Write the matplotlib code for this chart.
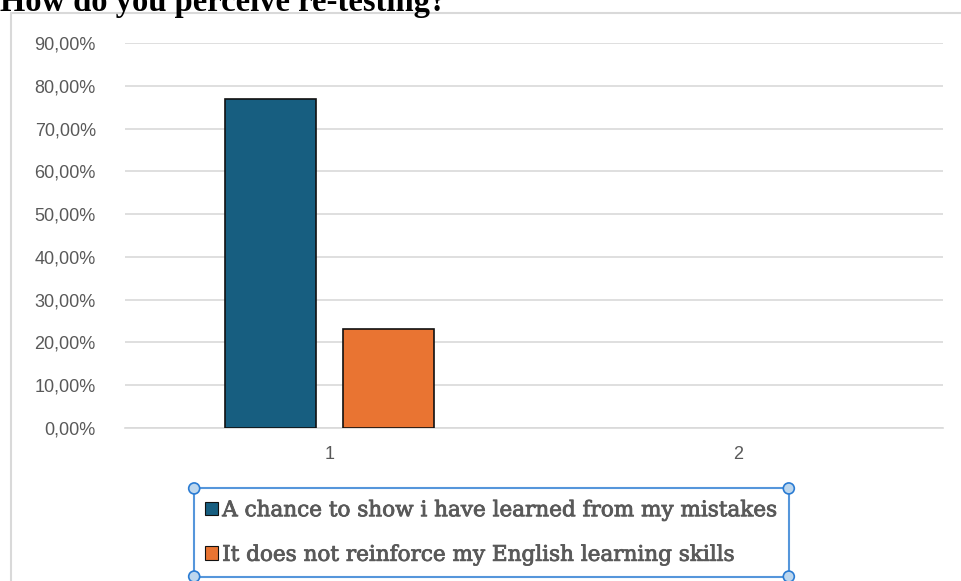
import matplotlib
matplotlib.use("Agg")
import matplotlib.pyplot as plt
import matplotlib.patheffects as pe
from matplotlib.patches import Rectangle, Circle
from matplotlib.ticker import FuncFormatter
import numpy as np

title = "How do you perceive re-testing?"
categories = ["1", "2"]
series_names = ["A chance to show i have learned from my mistakes",
                "It does not reinforce my English learning skills"]
series_a = [0.7692, np.nan]
series_b = [0.2308, np.nan]
y_ticks = [0.0, 0.1, 0.2, 0.3, 0.4, 0.5, 0.6, 0.7, 0.8, 0.9]
colors = ["#175e80", "#e97432"]

W, H = 961, 581
fig = plt.figure(figsize=(W / 100, H / 100), dpi=100)

# chart frame
fig.patches.append(Rectangle((11 / W, -0.1), 1.2, 1 - 13 / H + 0.1, transform=fig.transFigure,
                             fill=False, edgecolor="#d9d9d9", linewidth=1.5, zorder=0))

fig.text(0.0, 1 - 11 / H, title, fontsize=23.5, fontweight="bold",
         family="Liberation Serif", ha="left", va="baseline", color="black")

ax = fig.add_axes([125 / W, 1 - 428 / H, (943 - 125) / W, (428 - 43) / H])
x = np.arange(len(categories))
bw = 0.2225
off = 0.1435
b1 = ax.bar(x - off, series_a, bw, color=colors[0], edgecolor="#111111", linewidth=1.2,
            label=series_names[0], zorder=3)
b2 = ax.bar(x + off, series_b, bw, color=colors[1], edgecolor="#111111", linewidth=1.2,
            label=series_names[1], zorder=3)
ax.set_xlim(-0.5, 1.5)
ax.set_ylim(0, 0.9)
ax.set_yticks(y_ticks)
ax.yaxis.set_major_formatter(FuncFormatter(lambda v, p: f"{v*100:.2f}%".replace(".", ",")))
ax.set_xticks(x)
ax.set_xticklabels(categories)
ax.grid(axis="y", color="#d9d9d9", linewidth=1.2, zorder=0)
for s in ["top", "right", "left"]:
    ax.spines[s].set_visible(False)
ax.spines["bottom"].set_color("#d9d9d9")
ax.spines["bottom"].set_linewidth(1.2)
ax.tick_params(axis="both", length=0, colors="#595959", labelsize=13)
ax.tick_params(axis="y", pad=21)
ax.tick_params(axis="x", pad=13)
for lab in ax.get_xticklabels() + ax.get_yticklabels():
    lab.set_family("Liberation Sans")

leg = fig.legend(handles=[b1, b2], loc="center",
                 bbox_to_anchor=((197 + 786) / 2 / W, 1 - (490 + 575) / 2 / H),
                 prop={"family": "DejaVu Serif", "size": 15.5},
                 labelcolor="#595959", frameon=True, fancybox=False,
                 edgecolor="#2b7cd3", handlelength=0.6, handleheight=0.6,
                 handletextpad=0.2, labelspacing=1.05, borderpad=0.5, borderaxespad=0)
leg.get_frame().set_linewidth(1.5)
for t in leg.get_texts():
    t.set_path_effects([pe.withStroke(linewidth=0.6, foreground="#595959")])
for h in leg.legend_handles:
    h.set_linewidth(0.8)

fig.canvas.draw()
bb = leg.get_window_extent().transformed(fig.transFigure.inverted())
for cx in (bb.x0, bb.x1):
    for cy in (bb.y0, bb.y1):
        fig.patches.append(Circle((cx * W, cy * H), 5.5, transform=None,
                                  facecolor="#bdd7ee", edgecolor="#2b7cd3",
                                  linewidth=1.2, zorder=10))

fig.savefig("out.png", dpi=100)
